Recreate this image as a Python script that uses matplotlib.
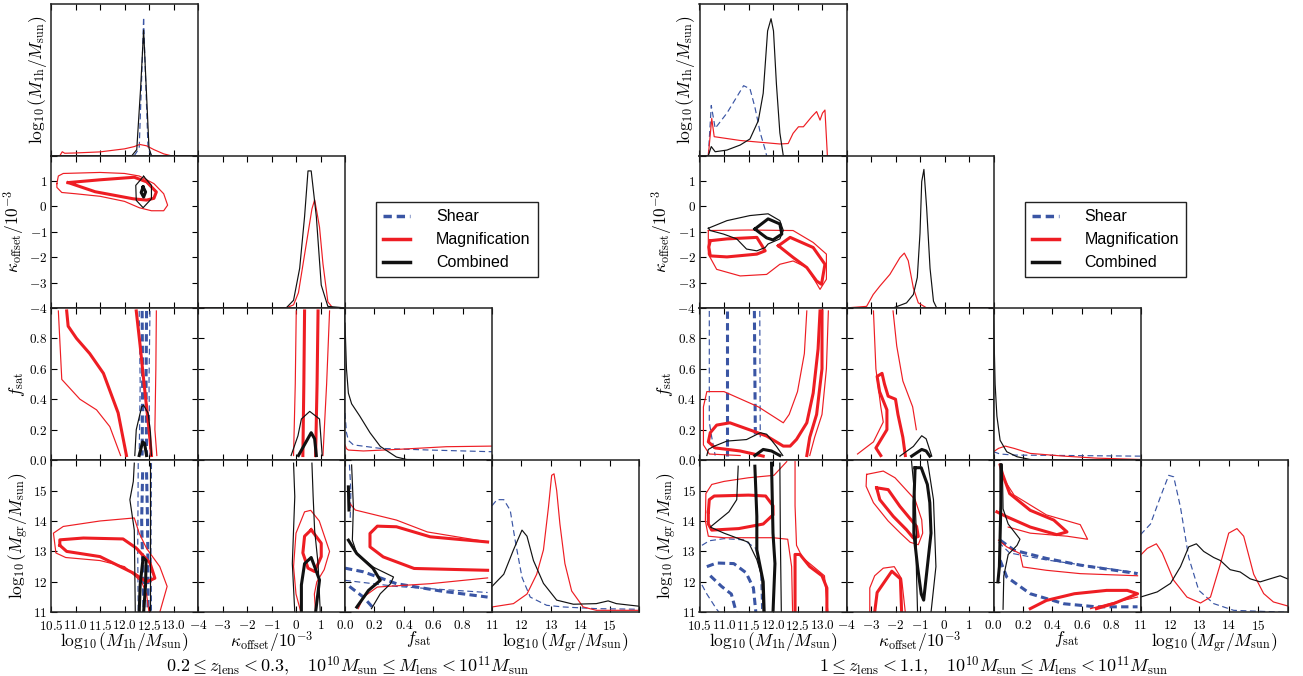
"""Corner plots of halo-model posteriors: shear, magnification and combined."""

import matplotlib
matplotlib.use("Agg")
import matplotlib.pyplot as plt
from matplotlib.lines import Line2D

plt.rcParams["mathtext.fontset"] = "cm"
plt.rcParams["font.family"] = "DejaVu Serif"

RED = "#ee1d23"
BLUE = "#3a55a4"
BLACK = "#111111"

# ---------------------------------------------------------------------------
# Parameters
# ---------------------------------------------------------------------------
PARAM_LABELS = [r"$\log_{10}(M_{\rm 1h}/M_{\rm sun})$",
                r"$\kappa_{\rm offset}/10^{-3}$",
                r"$f_{\rm sat}$",
                r"$\log_{10}(M_{\rm gr}/M_{\rm sun})$"]
PARAM_RANGES = [(10.5, 13.5), (-4, 2), (0, 1), (11, 16)]
PARAM_TICKS = [[10.5, 11.0, 11.5, 12.0, 12.5, 13.0, 13.5],
               [-4, -3, -2, -1, 0, 1, 2],
               [0.0, 0.2, 0.4, 0.6, 0.8, 1.0],
               [11, 12, 13, 14, 15, 16]]
PARAM_FMT = ["%.1f", "%d", "%.1f", "%d"]

LEFT_TITLE = (r"$0.2 \leq z_{\rm lens} < 0.3,\quad 10^{10}M_{\rm sun} \leq "
              r"M_{\rm lens} < 10^{11}M_{\rm sun}$")
RIGHT_TITLE = (r"$1 \leq z_{\rm lens} < 1.1,\quad 10^{10}M_{\rm sun} \leq "
               r"M_{\rm lens} < 10^{11}M_{\rm sun}$")

# ---------------------------------------------------------------------------
# Left set: 1-D marginals (probe, x, height)
# ---------------------------------------------------------------------------
LEFT_M1H_1D = [
    ("shear", [12.2, 12.3, 12.36, 12.39, 12.42, 12.48, 12.55],
              [0, 0.05, 0.6, 0.91, 0.6, 0.05, 0]),
    ("mag", [10.5, 10.68, 10.73, 10.78, 11.0, 11.5, 12.0, 12.2, 12.31, 12.45, 12.6, 12.8, 12.95, 13.5],
            [0, 0, 0.026, 0.016, 0.018, 0.025, 0.045, 0.06, 0.074, 0.065, 0.04, 0.012, 0, 0]),
    ("comb", [10.5, 12.15, 12.25, 12.33, 12.39, 12.45, 12.5, 12.55, 13.5],
             [0, 0, 0.04, 0.45, 0.825, 0.4, 0.05, 0, 0]),
]
LEFT_KAP_1D = [
    ("mag", [-4, -0.4, -0.1, 0.1, 0.3, 0.5, 0.65, 0.76, 0.83, 0.96, 1.1, 1.3, 1.5, 2],
            [0, 0, 0.02, 0.1, 0.3, 0.5, 0.65, 0.71, 0.65, 0.53, 0.29, 0.04, 0, 0]),
    ("comb", [-4, -0.4, -0.1, 0.15, 0.35, 0.49, 0.62, 0.83, 1.03, 1.3, 2],
             [0, 0, 0.05, 0.26, 0.6, 0.9, 0.9, 0.6, 0.15, 0.01, 0]),
]
LEFT_FS_1D = [
    ("shear", [0, 0.01, 0.023, 0.057, 0.24, 0.58, 1.0],
              [0.31, 0.18, 0.13, 0.1, 0.077, 0.066, 0.055]),
    ("mag", [0, 0.01, 0.023, 0.125, 0.35, 0.69, 1.0],
            [0.1, 0.075, 0.066, 0.06, 0.07, 0.088, 0.092]),
    ("comb", [0, 0.01, 0.023, 0.045, 0.1, 0.17, 0.24, 0.35, 0.42, 1.0],
             [0.9, 0.6, 0.44, 0.37, 0.29, 0.18, 0.09, 0.02, 0.004, 0]),
]
LEFT_MGR_1D = [
    ("shear", [11, 11.17, 11.4, 11.62, 11.79, 12.02, 12.3, 12.86, 13.43, 14.55, 16],
              [0.7, 0.74, 0.74, 0.67, 0.47, 0.23, 0.1, 0.046, 0.035, 0.024, 0.02]),
    ("mag", [11, 11.73, 12.19, 12.52, 12.75, 12.92, 13.03, 13.11, 13.2, 13.31, 13.48, 13.71, 14.1, 14.55, 16],
            [0.035, 0.057, 0.12, 0.25, 0.41, 0.69, 0.9, 0.91, 0.8, 0.58, 0.32, 0.14, 0.035, 0.013, 0.013]),
    ("comb", [11, 11.4, 11.73, 12.02, 12.19, 12.41, 12.75, 13.2, 13.77, 14.55, 14.95, 15.23, 16],
             [0.17, 0.25, 0.41, 0.54, 0.5, 0.34, 0.19, 0.08, 0.053, 0.057, 0.075, 0.057, 0.04]),
]

# Left set: 2-D contours (probe, level 1=68% / 2=95%, points)
LEFT_KAP_M1H = [
    ("mag", 2, [(10.62, 0.9), (10.65, 1.2), (10.75, 1.3), (11.5, 1.34), (12.0, 1.3), (12.3, 1.2),
                (12.6, 0.9), (12.8, 0.5), (12.88, 0.05), (12.8, -0.17), (12.55, -0.17), (12.3, -0.05),
                (12.0, 0.2), (11.5, 0.4), (11.0, 0.5), (10.72, 0.55), (10.62, 0.75), (10.62, 0.9)]),
    ("mag", 1, [(10.85, 0.94), (11.5, 1.05), (12.2, 1.15), (12.45, 0.97), (12.65, 0.57), (12.6, 0.32),
                (12.45, 0.25), (12.18, 0.3), (11.4, 0.58), (10.85, 0.94)]),
    ("comb", 2, [(12.39, 1.19), (12.55, 0.83), (12.55, 0.3), (12.38, -0.05), (12.24, 0.24),
                 (12.23, 0.83), (12.39, 1.19)]),
    ("comb", 1, [(12.38, 0.77), (12.43, 0.57), (12.39, 0.37), (12.34, 0.55), (12.38, 0.77)]),
]
LEFT_FS_M1H = [
    ("shear", 2, [(12.3, 0.98), (12.32, 0.5), (12.3, 0.03)]),
    ("shear", 2, [(12.52, 0.98), (12.5, 0.5), (12.52, 0.03)]),
    ("shear", 1, [(12.36, 0.98), (12.37, 0.5), (12.36, 0.03)]),
    ("shear", 1, [(12.45, 0.98), (12.44, 0.5), (12.45, 0.03)]),
    ("mag", 2, [(10.65, 0.98), (10.72, 0.53), (11.09, 0.40), (11.43, 0.33), (11.7, 0.22), (11.92, 0.03)]),
    ("mag", 1, [(10.82, 0.98), (10.85, 0.88), (11.02, 0.80), (11.29, 0.70), (11.57, 0.57),
                (11.87, 0.31), (12.04, 0.03)]),
    ("mag", 1, [(12.24, 0.98), (12.32, 0.75), (12.4, 0.5), (12.5, 0.2), (12.55, 0.03)]),
    ("mag", 2, [(12.65, 0.98), (12.64, 0.6), (12.62, 0.2), (12.66, 0.03)]),
    ("comb", 2, [(12.21, 0.03), (12.24, 0.2), (12.35, 0.35), (12.39, 0.36), (12.48, 0.31),
                 (12.53, 0.18), (12.55, 0.03)]),
    ("comb", 1, [(12.3, 0.03), (12.37, 0.12), (12.41, 0.11), (12.45, 0.03)]),
]
LEFT_MGR_M1H = [
    ("shear", 2, [(12.28, 15.9), (12.27, 13.0), (12.28, 11.0)]),
    ("shear", 2, [(12.55, 15.9), (12.54, 13.0), (12.55, 11.0)]),
    ("shear", 1, [(12.37, 15.6), (12.35, 14.0), (12.38, 12.0), (12.4, 11.0)]),
    ("shear", 1, [(12.45, 15.6), (12.47, 14.0), (12.48, 12.0), (12.48, 11.0)]),
    ("mag", 1, [(10.68, 13.2), (10.68, 13.38), (11.16, 13.44), (11.97, 13.41), (12.24, 13.11),
                (12.52, 12.62), (12.62, 12.12), (12.45, 12.0), (12.18, 12.29), (11.5, 12.83),
                (10.82, 13.0), (10.68, 13.2)]),
    ("mag", 2, [(12.72, 11.0), (12.87, 11.85), (12.72, 12.5), (12.45, 13.1), (12.3, 13.6),
                (12.2, 14.1), (11.5, 14.0), (10.75, 13.82), (10.55, 13.6), (10.6, 12.95),
                (10.8, 12.8), (11.5, 12.7), (12.0, 12.5), (12.35, 12.0), (12.45, 11.6), (12.5, 11.0)]),
    ("comb", 2, [(12.2, 15.9), (12.18, 15.3), (12.11, 14.7), (12.2, 13.7), (12.22, 11.0)]),
    ("comb", 2, [(12.52, 15.9), (12.52, 11.0)]),
    ("comb", 1, [(12.3, 11.0), (12.32, 11.9), (12.38, 12.8), (12.44, 12.7), (12.43, 11.9), (12.39, 11.0)]),
]
LEFT_FS_KAP = [
    ("mag", 2, [(0.01, 0.98), (-0.03, 0.5), (-0.1, 0.03)]),
    ("mag", 1, [(0.35, 0.98), (0.32, 0.5), (0.28, 0.03)]),
    ("mag", 1, [(0.9, 0.98), (0.86, 0.5), (0.8, 0.03)]),
    ("mag", 2, [(1.37, 0.98), (1.25, 0.5), (1.1, 0.03)]),
    ("comb", 2, [(-0.2, 0.03), (0.08, 0.16), (0.22, 0.27), (0.56, 0.32), (0.96, 0.27), (1.07, 0.03)]),
    ("comb", 1, [(0.1, 0.03), (0.62, 0.18), (0.76, 0.14), (0.83, 0.03)]),
]
LEFT_MGR_KAP = [
    ("mag", 2, [(0.2, 11.0), (0.0, 11.6), (-0.1, 12.5), (0.0, 13.6), (0.35, 14.3), (0.6, 14.35),
                (0.95, 14.0), (1.37, 13.0), (1.15, 12.4), (0.85, 12.0), (0.75, 11.6), (0.8, 11.0)]),
    ("mag", 1, [(0.62, 13.71), (1.03, 13.27), (1.03, 12.83), (0.76, 12.34), (0.49, 12.45),
                (0.28, 12.95), (0.35, 13.5), (0.62, 13.71)]),
    ("comb", 2, [(-0.1, 15.9), (-0.05, 14.8), (-0.1, 13.7), (-0.15, 12.6), (-0.05, 11.0)]),
    ("comb", 2, [(0.65, 15.9), (0.7, 14.8), (0.76, 13.7), (0.9, 12.6), (0.99, 11.0)]),
    ("comb", 1, [(0.22, 11.0), (0.22, 11.9), (0.35, 12.6), (0.62, 12.8), (0.76, 12.5),
                 (0.96, 12.06), (0.8, 11.0)]),
]
LEFT_MGR_FS = [
    ("shear", 2, [(0.03, 15.85), (0.04, 15.0), (0.035, 14.0)]),
    ("shear", 2, [(0.0, 12.05), (0.35, 11.85), (0.97, 11.65)]),
    ("shear", 1, [(0.0, 12.45), (0.125, 12.33), (0.35, 11.94), (0.65, 11.7), (0.97, 11.5)]),
    ("shear", 1, [(0.03, 11.85), (0.125, 11.5), (0.2, 11.1)]),
    ("mag", 2, [(0.034, 14.57), (0.07, 14.36), (0.35, 14.03), (0.56, 13.64), (0.9, 13.37), (0.97, 13.31)]),
    ("mag", 2, [(0.09, 11.12), (0.125, 11.5), (0.22, 11.83), (0.58, 11.94), (0.97, 12.13)]),
    ("mag", 1, [(0.97, 13.31), (0.58, 13.48), (0.35, 13.81), (0.22, 13.83), (0.17, 13.59),
                (0.17, 13.15), (0.26, 12.82), (0.47, 12.44), (0.97, 12.38)]),
    ("comb", 2, [(0.045, 15.84), (0.057, 14.46), (0.05, 13.37), (0.08, 12.93), (0.19, 12.49),
                 (0.33, 12.16), (0.31, 11.94), (0.24, 11.61), (0.18, 11.12)]),
    ("comb", 1, [(0.023, 15.12), (0.027, 14.36)]),
    ("comb", 1, [(0.023, 13.37), (0.08, 12.93), (0.19, 12.45), (0.24, 12.05), (0.16, 11.72), (0.08, 11.17)]),
]

# ---------------------------------------------------------------------------
# Right set
# ---------------------------------------------------------------------------
RIGHT_M1H_1D = [
    ("shear", [10.68, 10.74, 10.82, 11.06, 11.4, 11.53, 11.63, 11.74, 11.84, 11.87],
              [0, 0.33, 0.18, 0.28, 0.46, 0.44, 0.32, 0.15, 0.04, 0]),
    ("mag", [10.5, 10.68, 10.75, 10.8, 11.33, 12.14, 12.31, 12.41, 12.52, 12.62, 12.79, 12.89,
             12.96, 13.01, 13.06, 13.11, 13.5],
            [0, 0, 0.245, 0.125, 0.1, 0.077, 0.08, 0.147, 0.19, 0.19, 0.256, 0.29, 0.234, 0.28, 0.3, 0, 0]),
    ("comb", [10.5, 10.68, 10.74, 10.82, 11.06, 11.33, 11.53, 11.7, 11.8, 11.89, 11.96, 12.01,
              12.07, 12.14, 12.21, 13.5],
             [0, 0, 0.06, 0.026, 0.037, 0.07, 0.11, 0.23, 0.41, 0.82, 0.9, 0.82, 0.47, 0.15, 0, 0]),
]
RIGHT_KAP_1D = [
    ("mag", [-4, -3.18, -2.91, -2.64, -2.23, -1.82, -1.64, -1.48, -1.27, -1.07, -0.73, 2],
            [0, 0.01, 0.088, 0.143, 0.22, 0.33, 0.36, 0.31, 0.13, 0.033, 0, 0]),
    ("comb", [-4, -2.09, -1.55, -1.27, -1.11, -1.0, -0.93, -0.84, -0.73, -0.59, -0.45, -0.32, 2],
             [0, 0, 0.033, 0.088, 0.2, 0.49, 0.83, 0.91, 0.66, 0.26, 0.044, 0, 0]),
]
RIGHT_FS_1D = [
    ("shear", [0, 0.045, 0.14, 1.0], [0.055, 0.04, 0.033, 0.026]),
    ("mag", [0, 0.034, 0.08, 0.14, 0.25, 0.48, 0.7, 1.0],
            [0.055, 0.077, 0.092, 0.077, 0.044, 0.026, 0.013, 0.004]),
    ("comb", [0, 0.005, 0.011, 0.023, 0.045, 0.09, 0.16, 0.25, 0.35, 1.0],
             [0.99, 0.75, 0.5, 0.29, 0.13, 0.055, 0.022, 0.004, 0, 0]),
]
RIGHT_MGR_1D = [
    ("shear", [11, 11.34, 11.68, 11.96, 12.13, 12.36, 12.64, 12.98, 13.49, 14.17, 16],
              [0.51, 0.58, 0.76, 0.9, 0.89, 0.69, 0.36, 0.145, 0.057, 0.013, 0]),
    ("mag", [11, 11.23, 11.54, 11.74, 12.13, 12.58, 13.04, 13.38, 13.72, 14.0, 14.28, 14.51,
             14.85, 15.19, 15.52, 16],
            [0.375, 0.42, 0.45, 0.39, 0.21, 0.1, 0.061, 0.1, 0.32, 0.52, 0.55, 0.5, 0.25, 0.123, 0.068, 0.042]),
    ("comb", [11, 11.57, 12.02, 12.36, 12.64, 12.9, 13.15, 13.49, 13.72, 14.05, 14.39, 14.73,
              15.07, 15.41, 15.75, 16],
             [0.1, 0.134, 0.19, 0.3, 0.43, 0.45, 0.4, 0.36, 0.34, 0.28, 0.265, 0.22, 0.2, 0.22, 0.24, 0.22]),
]

RIGHT_KAP_M1H = [
    ("mag", 2, [(10.68, -0.95), (10.68, -1.88), (10.85, -2.48), (11.33, -2.74), (11.87, -2.68),
                (12.14, -2.28), (12.41, -2.15), (12.69, -2.41), (12.86, -2.94), (12.96, -3.27),
                (13.09, -2.87), (13.09, -1.88), (12.82, -1.42), (12.41, -0.95), (11.5, -0.93),
                (10.68, -0.95)]),
    ("mag", 1, [(10.72, -1.35), (11.06, -1.28), (11.67, -1.22), (11.84, -1.75), (11.67, -1.88),
                (11.06, -1.99), (10.72, -1.95), (10.69, -1.6), (10.72, -1.35)]),
    ("mag", 1, [(12.11, -1.55), (12.35, -1.22), (12.82, -1.62), (13.06, -2.28), (12.99, -3.07),
                (12.89, -2.94), (12.69, -2.41), (12.41, -2.01), (12.11, -1.55)]),
    ("comb", 2, [(10.68, -0.86), (11.06, -0.56), (11.53, -0.36), (11.9, -0.29), (12.14, -0.56),
                 (12.21, -0.95), (12.14, -1.28), (11.9, -1.48), (11.84, -1.62), (11.67, -1.75),
                 (11.46, -1.68), (11.26, -1.28), (10.99, -1.09), (10.72, -0.95), (10.68, -0.86)]),
    ("comb", 1, [(11.63, -0.89), (11.9, -0.49), (12.14, -0.69), (12.18, -1.09), (12.0, -1.32),
                 (11.87, -1.24), (11.63, -0.89)]),
]
RIGHT_FS_M1H = [
    ("shear", 2, [(10.7, 0.98), (10.7, 0.25), (10.75, 0.15), (10.82, 0.03)]),
    ("shear", 1, [(11.07, 0.98), (11.07, 0.03)]),
    ("shear", 1, [(11.62, 0.98), (11.64, 0.15)]),
    ("shear", 2, [(11.73, 0.98), (11.74, 0.15)]),
    ("mag", 2, [(12.69, 0.98), (12.64, 0.7), (12.5, 0.45), (12.33, 0.3), (12.21, 0.245), (11.7, 0.35),
                (11.0, 0.45), (10.65, 0.45), (10.58, 0.35), (10.58, 0.1), (10.7, 0.04), (11.33, 0.03)]),
    ("mag", 2, [(13.13, 0.98), (13.09, 0.6), (13.0, 0.3), (12.85, 0.15), (12.75, 0.03)]),
    ("mag", 1, [(11.8, 0.026), (11.33, 0.06), (10.82, 0.08), (10.68, 0.12), (10.72, 0.18),
                (10.85, 0.23), (11.12, 0.245), (11.6, 0.19), (11.87, 0.158), (12.21, 0.092),
                (12.35, 0.092), (12.48, 0.136), (12.69, 0.245), (12.82, 0.44), (12.92, 0.73), (12.96, 0.98)]),
    ("mag", 1, [(13.0, 0.98), (13.0, 0.6), (12.89, 0.3), (12.75, 0.15), (12.69, 0.03)]),
    ("comb", 2, [(10.65, 0.03), (10.68, 0.07), (10.79, 0.09), (11.06, 0.125), (11.46, 0.135),
                 (11.74, 0.18), (11.87, 0.17), (12.07, 0.09), (12.2, 0.03)]),
    ("comb", 1, [(11.63, 0.03), (11.8, 0.07), (11.97, 0.06), (12.14, 0.03)]),
]
RIGHT_MGR_M1H = [
    ("shear", 2, [(10.55, 13.2), (10.7, 13.35), (11.0, 13.42), (11.4, 13.38), (11.65, 13.1),
                  (11.75, 12.3), (11.77, 11.0)]),
    ("shear", 2, [(10.55, 11.9), (10.65, 11.6), (10.85, 11.1), (10.9, 11.0)]),
    ("shear", 1, [(10.65, 12.5), (10.85, 12.62), (11.2, 12.6), (11.45, 12.3), (11.6, 11.8), (11.65, 11.0)]),
    ("shear", 1, [(10.72, 12.2), (10.95, 11.85), (11.15, 11.6), (11.25, 11.0)]),
    ("mag", 2, [(12.28, 15.95), (12.02, 15.5), (11.5, 15.42), (11.0, 15.3), (10.75, 15.2),
                (10.63, 14.9), (10.62, 14.0), (10.68, 13.5), (11.0, 13.45), (12.0, 13.45),
                (12.3, 13.4), (12.38, 12.5), (12.4, 11.0)]),
    ("mag", 2, [(12.45, 15.95), (12.45, 14.5), (12.48, 13.2), (12.6, 12.8), (13.05, 12.2), (13.12, 11.0)]),
    ("mag", 1, [(10.68, 14.3), (10.7, 14.7), (10.8, 14.82), (11.5, 14.85), (11.85, 14.82),
                (12.0, 14.5), (12.0, 14.2), (11.8, 13.9), (11.3, 13.75), (10.75, 13.7),
                (10.68, 13.9), (10.68, 14.3)]),
    ("mag", 1, [(12.45, 11.0), (12.45, 12.9), (12.55, 12.9), (12.75, 12.5), (13.0, 12.2),
                (13.1, 11.8), (13.1, 11.0)]),
    ("comb", 2, [(11.29, 15.8), (11.26, 14.7), (11.1, 14.3), (10.72, 13.8), (11.0, 13.6),
                 (11.5, 13.3), (11.67, 12.73), (11.77, 12.18), (11.8, 11.0)]),
    ("comb", 2, [(12.14, 15.9), (12.15, 13.5), (12.17, 11.0)]),
    ("comb", 1, [(11.63, 15.8), (11.67, 14.15), (11.67, 13.05), (11.8, 12.0), (11.82, 11.0)]),
    ("comb", 1, [(11.97, 15.9), (12.0, 13.6), (12.04, 12.6), (12.0, 11.0)]),
]
RIGHT_FS_KAP = [
    ("mag", 2, [(-2.9, 0.98), (-2.8, 0.6), (-2.6, 0.35), (-2.5, 0.25), (-2.9, 0.12), (-3.55, 0.04)]),
    ("mag", 2, [(-2.1, 0.98), (-1.95, 0.75), (-1.7, 0.52), (-1.3, 0.35), (-1.15, 0.2)]),
    ("mag", 1, [(-2.6, 0.03), (-2.8, 0.08), (-2.35, 0.2), (-2.35, 0.33), (-2.65, 0.45), (-2.75, 0.55),
                (-2.55, 0.57), (-2.45, 0.5), (-2.3, 0.42), (-2.0, 0.4), (-1.9, 0.3), (-1.7, 0.15),
                (-1.6, 0.03)]),
    ("comb", 2, [(-1.82, 0.026), (-1.27, 0.09), (-0.93, 0.16), (-0.75, 0.14), (-0.52, 0.026)]),
    ("comb", 1, [(-1.34, 0.026), (-0.93, 0.07), (-0.75, 0.06), (-0.6, 0.026)]),
]
RIGHT_MGR_KAP = [
    ("mag", 2, [(-3.18, 15.53), (-2.5, 15.64), (-2.02, 15.42), (-1.2, 14.7), (-0.93, 14.04),
                (-0.89, 13.6), (-1.07, 13.22), (-1.4, 13.3), (-1.8, 13.6), (-2.3, 14.0),
                (-2.9, 14.6), (-3.2, 15.14), (-3.18, 15.53)]),
    ("mag", 1, [(-2.77, 15.09), (-2.3, 15.03), (-1.82, 14.48), (-1.14, 13.82), (-1.07, 13.49),
                (-1.27, 13.44), (-1.55, 13.71), (-2.09, 14.15), (-2.64, 14.7), (-2.77, 15.09)]),
    ("mag", 2, [(-3.05, 11.0), (-3.05, 11.8), (-2.85, 12.2), (-2.5, 12.45), (-2.05, 12.5),
                (-1.75, 12.1), (-1.6, 11.0)]),
    ("mag", 1, [(-2.85, 11.0), (-2.75, 11.65), (-2.15, 12.35), (-1.8, 12.1), (-1.75, 11.0)]),
    ("comb", 2, [(-1.35, 16.0), (-1.2, 14.7), (-1.15, 13.6), (-1.15, 12.5), (-1.1, 11.0)]),
    ("comb", 2, [(-0.7, 16.0), (-0.45, 14.7), (-0.4, 13.6), (-0.35, 12.5), (-0.55, 11.0)]),
    ("comb", 1, [(-1.2, 15.75), (-0.95, 15.75), (-0.7, 15.2), (-0.6, 14.6), (-0.55, 13.6),
                 (-0.7, 12.5), (-0.85, 11.4), (-0.95, 11.6), (-1.1, 12.5), (-1.25, 13.6),
                 (-1.25, 14.6), (-1.2, 15.75)]),
]
RIGHT_MGR_FS = [
    ("shear", 2, [(0.035, 13.3), (0.11, 12.95), (0.36, 12.72), (0.98, 12.3)]),
    ("shear", 1, [(0.045, 13.37), (0.14, 13.04), (0.36, 12.77), (0.59, 12.55), (0.98, 12.27)]),
    ("shear", 1, [(0.045, 12.71), (0.09, 12.16), (0.25, 11.61), (0.48, 11.28), (0.7, 11.18), (0.98, 11.18)]),
    ("mag", 2, [(0.045, 15.84), (0.08, 15.3), (0.14, 14.85), (0.36, 14.2), (0.59, 13.88), (0.64, 13.4),
                (0.5, 13.5), (0.25, 13.6), (0.1, 13.8)]),
    ("mag", 1, [(0.045, 15.84), (0.06, 15.56), (0.11, 14.9), (0.25, 14.35), (0.41, 14.03),
                (0.5, 13.64), (0.43, 13.55), (0.25, 13.8), (0.09, 14.14), (0.023, 14.3)]),
    ("mag", 2, [(0.034, 13.37), (0.09, 13.15), (0.18, 12.93), (0.2, 12.49), (0.36, 12.38),
                (0.59, 12.27), (0.98, 12.2)]),
    ("mag", 1, [(0.25, 11.12), (0.36, 11.39), (0.55, 11.61), (0.77, 11.72), (0.91, 11.72),
                (0.98, 11.61), (0.9, 11.45), (0.82, 11.29), (0.7, 11.12)]),
    ("mag", 2, [(0.66, 11.12), (0.8, 11.3), (0.98, 11.5)]),
    ("comb", 2, [(0.06, 15.85), (0.065, 14.4), (0.1, 13.9), (0.18, 13.4), (0.16, 13.2),
                 (0.1, 12.9), (0.07, 12.2), (0.065, 11.1)]),
    ("comb", 1, [(0.05, 15.85), (0.05, 14.5), (0.045, 13.5), (0.04, 12.5), (0.03, 12.0)]),
]

LEFT_SET = {
    "diag": [LEFT_M1H_1D, LEFT_KAP_1D, LEFT_FS_1D, LEFT_MGR_1D],
    "pairs": {(1, 0): LEFT_KAP_M1H, (2, 0): LEFT_FS_M1H, (3, 0): LEFT_MGR_M1H,
              (2, 1): LEFT_FS_KAP, (3, 1): LEFT_MGR_KAP, (3, 2): LEFT_MGR_FS},
}
RIGHT_SET = {
    "diag": [RIGHT_M1H_1D, RIGHT_KAP_1D, RIGHT_FS_1D, RIGHT_MGR_1D],
    "pairs": {(1, 0): RIGHT_KAP_M1H, (2, 0): RIGHT_FS_M1H, (3, 0): RIGHT_MGR_M1H,
              (2, 1): RIGHT_FS_KAP, (3, 1): RIGHT_MGR_KAP, (3, 2): RIGHT_MGR_FS},
}

# ---------------------------------------------------------------------------
# Drawing
# ---------------------------------------------------------------------------
COLORS = {"shear": BLUE, "mag": RED, "comb": BLACK}
W, H = 1303, 676


def _style(probe, level):
    lw = 2.2 if level == 1 else 0.85
    kw = dict(color=COLORS[probe], lw=lw, solid_joinstyle="round")
    if probe == "shear":
        kw["ls"] = (0, (2.4, 1.4)) if level == 1 else (0, (5, 3))
    return kw


def _tick_labels(k):
    labels = [("$%s$" % (PARAM_FMT[k] % v)) for v in PARAM_TICKS[k]]
    labels[-1] = ""
    return labels


def draw_corner(fig, data, x0, title, title_x):
    col_w, row_h = 147.0, 152.2
    top0 = 3.5
    for i in range(4):
        for j in range(i + 1):
            left = x0 + j * col_w
            top = top0 + i * row_h
            ax = fig.add_axes([left / W, 1 - (top + row_h) / H, col_w / W, row_h / H])
            ax.set_xlim(PARAM_RANGES[j])
            ax.set_xticks(PARAM_TICKS[j])
            if i == j:
                ax.set_ylim(0, 1)
                ax.set_yticks([])
                for probe, xs, ys in data["diag"][i]:
                    ax.plot(xs, ys, **_style(probe, 2))
                ax.tick_params(axis="x", direction="in", top=True, bottom=True,
                               length=4, width=0.8, pad=4.5)
            else:
                ax.set_ylim(PARAM_RANGES[i])
                ax.set_yticks(PARAM_TICKS[i])
                for probe, level, pts in data["pairs"][(i, j)]:
                    xs, ys = zip(*pts)
                    ax.plot(xs, ys, **_style(probe, level))
                ax.tick_params(direction="in", top=True, bottom=True, left=True,
                               right=True, length=4, width=0.8)
                ax.tick_params(axis="x", pad=4.5)
                ax.tick_params(axis="y", pad=2.5)
            if i == 3:
                ax.set_xticklabels(_tick_labels(j), fontsize=9.5)
                ax.set_xlabel(PARAM_LABELS[j], fontsize=12.5, labelpad=-1.5)
            else:
                ax.set_xticklabels([])
            if j == 0:
                if i > 0:
                    ax.set_yticklabels(_tick_labels(i), fontsize=9.5)
                ax.set_ylabel(PARAM_LABELS[i], fontsize=12.5, labelpad=1.5)
            else:
                ax.set_yticklabels([])
            for sp in ax.spines.values():
                sp.set_linewidth(1.1)
                sp.set_color("#222222")

    fig.text(title_x / W, 1 - 666 / H, title, ha="center", va="center", fontsize=13)

    handles = [Line2D([], [], color=BLUE, lw=2.5, ls=(0, (2.4, 1.4))),
               Line2D([], [], color=RED, lw=2.5),
               Line2D([], [], color=BLACK, lw=2.5)]
    fig.legend(handles, ["Shear", "Magnification", "Combined"],
               loc="upper left", bbox_to_anchor=((x0 + 325) / W, 1 - 202 / H),
               borderaxespad=0, frameon=True, fancybox=False, edgecolor="#222222",
               framealpha=1, handlelength=1.7, handletextpad=1.6, labelspacing=0.5,
               borderpad=0.45, prop={"family": "Liberation Sans", "size": 11.5})


def main():
    fig = plt.figure(figsize=(W / 100, H / 100), dpi=100)
    draw_corner(fig, LEFT_SET, 51.0, LEFT_TITLE, 348)
    draw_corner(fig, RIGHT_SET, 699.5, RIGHT_TITLE, 994)
    fig.savefig("out.png", dpi=100)


if __name__ == "__main__":
    main()
